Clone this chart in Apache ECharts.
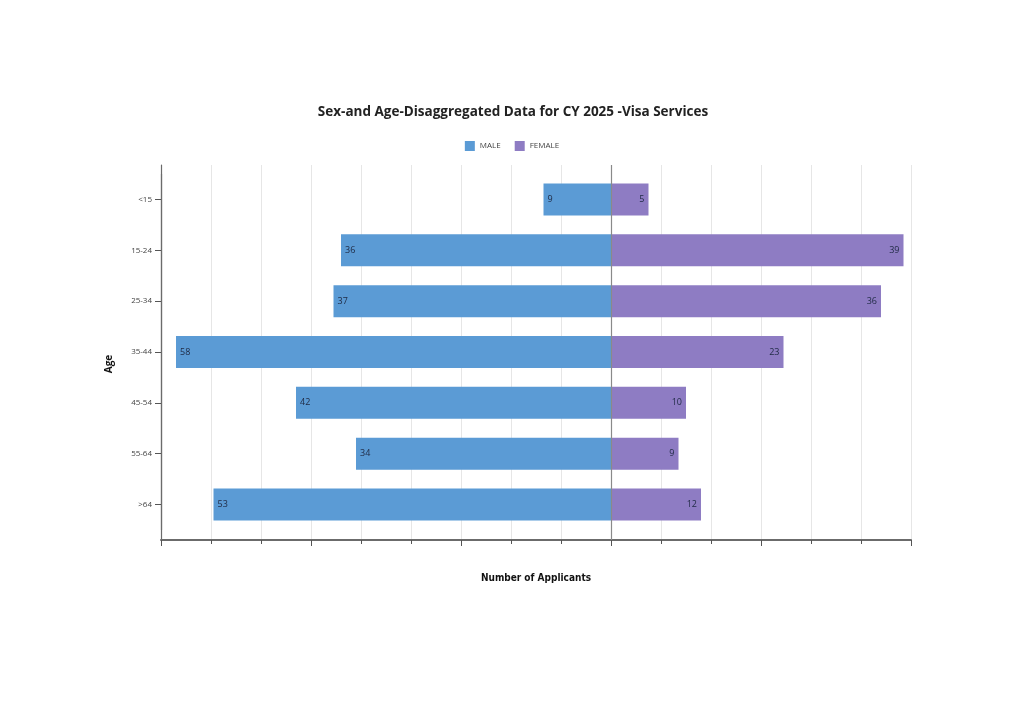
<!DOCTYPE html>
<html>
<head>
<meta charset="utf-8">
<script src="https://cdn.jsdelivr.net/npm/echarts@6/dist/echarts.min.js"></script>
<style>
  html, body { margin: 0; padding: 0; background: #fff; }
  #chart { width: 1024px; height: 724px; }
</style>
</head>
<body>
<div id="chart"></div>
<script>
// age groups, top to bottom
var ageGroups = ['<15', '15-24', '25-34', '35-44', '45-54', '55-64', '>64'];
var maleCounts = [9, 36, 37, 58, 42, 34, 53];
var femaleCounts = [5, 39, 36, 23, 10, 9, 12];

var MALE_COLOR = '#5b9bd5',
    FEMALE_COLOR = '#8e7cc3',
    AXIS_COLOR = '#6b6b6b',
    GRID_COLOR = '#e6e6e6';

// male bars go to the left
var maleLeft = maleCounts.map(function(v) { return -v; });

var chart = echarts.init(document.getElementById('chart'));

var option = {
    backgroundColor: '#fff',
    textStyle: { fontFamily: 'Open Sans, Noto Sans, sans-serif' },
    title: {
        text: 'Sex-and Age-Disaggregated Data for CY 2025 -Visa Services',
        left: 508,
        textAlign: 'center',
        top: 100,
        textStyle: { fontSize: 13.5, fontWeight: 'bold', color: '#222', fontFamily: 'Open Sans' }
    },
    legend: {
        data: ['MALE', 'FEMALE'],
        top: 136,
        left: 'center',
        itemWidth: 10,
        itemHeight: 10,
        itemGap: 14,
        icon: 'rect',
        textStyle: { fontSize: 8, color: '#444' }
    },
    grid: [
        // frame: axis lines and grid lines
        { left: 161, right: 113, top: 165, bottom: 184 },
        // bars
        { left: 161, right: 113, top: 174, bottom: 194 }
    ],
    xAxis: [{
        gridIndex: 0,
        type: 'value',
        min: -60,
        max: 40,
        interval: 20,
        name: 'Number of Applicants',
        nameLocation: 'middle',
        nameGap: 33,
        nameTextStyle: { fontSize: 10, fontWeight: 'bold', color: '#111', fontFamily: 'DejaVu Sans Condensed, DejaVu Sans' },
        axisLine: { show: true, lineStyle: { color: AXIS_COLOR, width: 2 } },
        axisTick: { show: true, length: 6, lineStyle: { color: '#555' } },
        minorTick: { show: true, splitNumber: 3, length: 4, lineStyle: { color: '#555' } },
        axisLabel: { show: false },
        splitLine: { show: true, lineStyle: { color: GRID_COLOR } },
        minorSplitLine: { show: true, lineStyle: { color: GRID_COLOR } }
    }, {
        gridIndex: 1,
        type: 'value',
        min: -60,
        max: 40,
        show: false
    }],
    yAxis: [{
        gridIndex: 0,
        type: 'value',
        min: 0,
        max: 1,
        axisLine: { show: true, onZero: false, lineStyle: { color: AXIS_COLOR, width: 1.2 } },
        axisTick: { show: false },
        axisLabel: { show: false },
        splitLine: { show: false }
    }, {
        gridIndex: 1,
        type: 'category',
        inverse: true,
        data: ageGroups,
        name: 'Age',
        nameLocation: 'middle',
        nameGap: 47,
        nameRotate: 90,
        nameTextStyle: { fontSize: 10, fontWeight: 'bold', color: '#111', padding: [0, 0, 0, -24] },
        axisLine: { show: true, onZero: false, lineStyle: { color: AXIS_COLOR, width: 1.2 } },
        axisTick: { show: true, alignWithLabel: true, length: 6, lineStyle: { color: '#555' } },
        axisLabel: { fontSize: 8, color: '#444', margin: 9 }
    }],
    series: [{
        // zero line over the full frame
        name: 'zero',
        type: 'line',
        xAxisIndex: 0,
        yAxisIndex: 0,
        data: [],
        silent: true,
        markLine: {
            silent: true,
            symbol: 'none',
            label: { show: false },
            lineStyle: { color: '#8a8a8a', type: 'solid', width: 1.2 },
            data: [{ xAxis: 0 }]
        },
        z: 5
    }, {
        name: 'MALE',
        type: 'bar',
        xAxisIndex: 1,
        yAxisIndex: 1,
        stack: 'pop',
        barWidth: 32,
        data: maleLeft,
        itemStyle: { color: MALE_COLOR },
        label: {
            show: true,
            position: 'insideLeft',
            distance: 4,
            fontSize: 9,
            color: '#1f2a44',
            formatter: function(p) { return Math.abs(p.value); }
        },
        z: 3
    }, {
        name: 'FEMALE',
        type: 'bar',
        xAxisIndex: 1,
        yAxisIndex: 1,
        stack: 'pop',
        barWidth: 32,
        data: femaleCounts,
        itemStyle: { color: FEMALE_COLOR },
        label: {
            show: true,
            position: 'insideRight',
            distance: 4,
            fontSize: 9,
            color: '#1f2a44'
        },
        z: 3
    }]
};

chart.setOption(option);
</script>
</body>
</html>
